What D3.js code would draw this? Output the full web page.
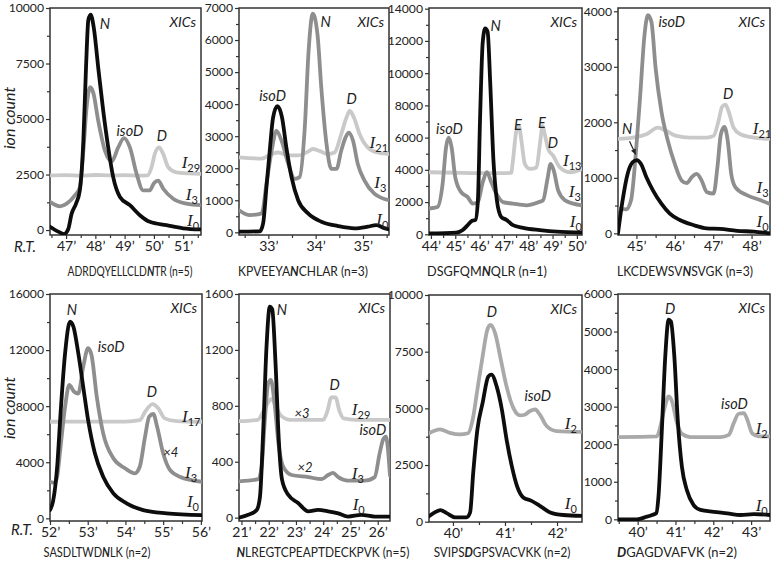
<!DOCTYPE html>
<html><head><meta charset="utf-8">
<script src="https://cdn.jsdelivr.net/npm/d3@7"></script>
<style>body{margin:0;background:#fff}svg{display:block}</style>
</head><body><svg id="c" width="775" height="563"></svg>
<script>
// ---------- DATA (retention time in minutes, ion count) ----------
const p1_I0  = [[46.45,150],[46.73,-70],[46.93,-180],[47.07,30],[47.19,740],[47.34,1190],[47.47,1790],[47.59,4020],[47.68,7290],[47.76,9460],[47.84,9700],[47.95,9080],[48.1,7290],[48.27,5360],[48.44,3720],[48.61,2380],[48.84,1490],[49.18,1120],[49.52,670],[49.86,370],[50.43,220],[51.0,80],[51.61,30]];
const p1_I3  = [[46.45,1265],[46.79,1070],[47.02,1190],[47.3,1560],[47.47,1930],[47.59,3570],[47.7,5500],[47.82,6430],[47.93,6180],[48.1,4910],[48.33,3570],[48.56,3100],[48.78,3720],[48.98,4140],[49.18,3720],[49.41,2530],[49.63,1790],[49.86,1790],[50.0,2110],[50.15,2230],[50.32,1860],[50.66,1410],[51.12,1190],[51.61,1120]];
const p1_I29 = [[46.45,2460],[47.0,2470],[47.5,2450],[48.0,2480],[48.5,2460],[49.0,2470],[49.5,2450],[49.78,2460],[49.92,2830],[50.03,3420],[50.18,3720],[50.32,3420],[50.49,2830],[50.77,2600],[51.2,2550],[51.61,2530]];

const p2_I0  = [[32.38,20],[32.82,30],[32.89,280],[32.96,1410],[33.03,2550],[33.1,3580],[33.19,3940],[33.29,3580],[33.38,2650],[33.49,1720],[33.63,1000],[33.84,590],[34.12,330],[34.47,195],[34.82,125],[35.1,175],[35.28,225],[35.45,130],[35.55,90]];
const p2_I3  = [[32.38,690],[32.61,535],[32.86,590],[32.96,1515],[33.07,2545],[33.17,3165],[33.28,2855],[33.42,2135],[33.56,1670],[33.66,1720],[33.77,3265],[33.85,5640],[33.94,6820],[34.04,6155],[34.12,4500],[34.23,2750],[34.33,1980],[34.44,1980],[34.54,2545],[34.63,2955],[34.7,3110],[34.79,2855],[34.89,2135],[35.03,1620],[35.24,1205],[35.55,1000]];
const p2_I21 = [[32.38,2340],[32.86,2300],[33.07,2440],[33.21,2490],[33.42,2400],[33.63,2400],[33.84,2520],[33.94,2600],[34.08,2540],[34.26,2440],[34.4,2490],[34.54,3060],[34.65,3575],[34.72,3785],[34.81,3575],[34.93,3060],[35.1,2650],[35.31,2490],[35.55,2440]];

const p3_I0  = [[43.92,50],[45.03,100],[45.31,265],[45.51,570],[45.69,840],[45.83,900],[45.93,2110],[46.02,7230],[46.13,11950],[46.23,12770],[46.33,12560],[46.44,9290],[46.57,4570],[46.71,2110],[46.89,1080],[47.1,900],[47.37,570],[47.79,405],[48.48,265],[49.17,160],[50.21,100]];
const p3_I3  = [[43.92,1600],[44.27,1700],[44.48,3140],[44.62,5390],[44.73,6000],[44.85,5390],[45.0,3540],[45.24,2620],[45.51,2310],[45.72,1905],[45.93,2000],[46.13,3235],[46.3,3850],[46.48,3235],[46.69,2520],[46.96,2000],[47.37,1905],[47.93,1800],[48.4,1980],[48.61,2110],[48.78,3340],[48.92,4365],[49.05,3955],[49.23,2725],[49.51,2110],[49.85,1905],[50.21,1800]];
const p3_I13 = [[43.92,3850],[45.0,3820],[46.0,3800],[47.0,3800],[47.3,3820],[47.37,4570],[47.51,6410],[47.62,6720],[47.72,5800],[47.86,4365],[48.06,4060],[48.34,4150],[48.48,5600],[48.59,6720],[48.68,6210],[48.82,5290],[49.02,4880],[49.3,4150],[49.71,3850],[50.21,4060]];

const p4_I0  = [[44.52,0],[44.64,595],[44.77,1070],[44.9,1280],[45.01,1320],[45.12,1250],[45.26,1010],[45.43,775],[45.65,535],[45.87,355],[46.13,240],[46.48,150],[46.83,90],[47.18,80],[47.62,45],[48.06,30],[48.48,0]];
const p4_I3  = [[44.52,445],[44.73,430],[44.86,595],[44.99,1490],[45.1,2500],[45.21,3570],[45.3,3930],[45.39,3810],[45.5,2975],[45.65,2200],[45.82,1665],[46.0,1250],[46.18,950],[46.31,905],[46.44,1010],[46.57,1070],[46.7,950],[46.83,745],[47.01,715],[47.11,1190],[47.2,1785],[47.29,1915],[47.38,1665],[47.47,1070],[47.58,830],[47.89,685],[48.24,595],[48.48,525]];
const p4_I21 = [[44.52,1700],[44.9,1725],[45.26,1785],[45.56,1905],[45.78,1845],[46.04,1755],[46.39,1725],[46.83,1725],[47.01,1755],[47.14,2025],[47.23,2275],[47.32,2320],[47.4,2200],[47.53,1905],[47.71,1785],[48.06,1725],[48.48,1700]];

const p5_I0  = [[52.0,600],[52.08,1200],[52.19,3680],[52.28,7490],[52.4,11770],[52.53,14020],[52.62,13670],[52.75,11770],[52.88,9390],[53.01,7010],[53.19,4640],[53.41,2970],[53.68,1780],[54.03,1070],[54.47,590],[55.09,360],[56.03,235]];
const p5_I3  = [[52.0,2610],[52.13,2540],[52.19,2970],[52.28,5110],[52.4,7960],[52.51,9510],[52.64,9030],[52.75,8900],[52.88,10810],[53.01,12130],[53.1,11650],[53.24,8670],[53.41,6060],[53.68,4280],[53.99,3570],[54.25,3210],[54.38,3680],[54.52,5820],[54.63,7250],[54.74,7440],[54.84,6530],[55.0,4640],[55.18,3450],[55.44,2970],[56.03,2610]];
const p5_I17 = [[52.0,6890],[53.0,6900],[54.0,6900],[54.38,7000],[54.52,7600],[54.72,8150],[54.87,7850],[55.04,7130],[55.36,6940],[56.03,6890]];

const p6_I0  = [[20.91,0],[21.25,20],[21.56,55],[21.68,150],[21.8,630],[21.92,1225],[22.04,1510],[22.13,1490],[22.25,1105],[22.37,555],[22.49,270],[22.71,165],[23.08,105],[23.45,45],[23.81,55],[24.18,45],[24.55,30],[24.91,8],[25.4,20],[25.89,8],[26.45,8]];
const p6_I3  = [[20.91,260],[21.62,275],[21.74,365],[21.86,700],[21.98,960],[22.08,985],[22.2,845],[22.37,510],[22.53,365],[22.84,305],[23.45,290],[23.94,275],[24.18,305],[24.36,320],[24.55,290],[24.91,265],[25.52,265],[25.89,290],[26.07,460],[26.2,560],[26.3,580],[26.38,480],[26.45,300]];
const p6_I29 = [[20.91,690],[21.6,700],[21.8,760],[22.0,830],[22.1,850],[22.25,800],[22.45,730],[22.8,700],[23.5,700],[24.0,700],[24.15,760],[24.3,860],[24.45,860],[24.6,760],[24.75,710],[25.2,700],[26.45,700]];

const p7_I0  = [[39.54,240],[39.65,410],[39.76,515],[39.88,380],[40.04,195],[40.26,190],[40.33,410],[40.39,2170],[40.47,4070],[40.57,5240],[40.68,6410],[40.74,6490],[40.84,5970],[40.94,4950],[41.03,3630],[41.13,2460],[41.23,1580],[41.35,1070],[41.51,920],[41.67,700],[41.87,410],[42.12,295],[42.48,260]];
const p7_I2  = [[39.54,3900],[39.75,4070],[39.94,3920],[40.13,3850],[40.29,3900],[40.38,4510],[40.47,5830],[40.57,7290],[40.66,8460],[40.72,8680],[40.81,8320],[40.92,7150],[41.03,5970],[41.16,5020],[41.29,4690],[41.38,4720],[41.48,4880],[41.58,4950],[41.67,4720],[41.8,4220],[41.99,4000],[42.48,3960]];

const p8_I0  = [[39.48,0],[39.98,0],[40.24,70],[40.38,115],[40.49,160],[40.55,600],[40.64,2380],[40.73,4340],[40.82,5320],[40.88,5270],[40.97,4340],[41.06,2650],[41.17,1400],[41.3,780],[41.48,380],[41.66,250],[42.01,200],[42.37,160],[42.72,115],[43.07,140],[43.5,115]];
const p8_I2  = [[39.48,2190],[40.51,2210],[40.6,2470],[40.7,2915],[40.82,3270],[40.91,3135],[41.04,2560],[41.17,2275],[41.39,2190],[42.19,2190],[42.41,2250],[42.54,2560],[42.67,2810],[42.81,2830],[42.9,2650],[43.03,2290],[43.2,2210],[43.5,2210]];

// axis domains and tick labels
const xDomains = [[46.45,51.61],[32.38,35.55],[43.92,50.21],[44.52,48.48],[52,56.03],[20.91,26.45],[39.54,42.48],[39.48,43.5]];
const yDomains = [[-223,10000],[-84,7000],[-43,14043],[-30,4059],[-190,16000],[-24,1600],[-13,10000],[-45,6000]];
const xTicks = [[47,48,49,50,51],[33,34,35],[44,45,46,47,48,49,50],[45,46,47,48],[52,53,54,55,56],[21,22,23,24,25,26],[40,41,42],[40,41,42,43]];
const yTicks = [[0,2500,5000,7500,10000],[0,1000,2000,3000,4000,5000,6000,7000],[0,2000,4000,6000,8000,10000,12000,14000],[0,1000,2000,3000,4000],[0,4000,8000,12000,16000],[0,400,800,1200,1600],[0,2500,5000,7500,10000],[0,1000,2000,3000,4000,5000,6000]];
const yStep = [2500,1000,2000,1000,4000,400,2500,1000];

// peptide labels: [before, modified residue, after]
const peptides = [["ADRDQYELLCLD","N","TR (n=5)"],["KPVEEYA","N","CHLAR (n=3)"],["DSGFQM","N","QLR (n=1)"],["LKCDEWSV","N","SVGK (n=3)"],["SASDLTWD","N","LK (n=2)"],["","N","LREGTCPEAPTDECKPVK (n=5)"],["SVIPS","D","GPSVACVKK (n=2)"],["","D","GAGDVAFVK (n=2)"]];

// series per panel: [name, subscript, data, tone]
const series = [
  [["I","29",p1_I29,"light"],["I","3",p1_I3,"mid"],["I","0",p1_I0,"dark"]],
  [["I","21",p2_I21,"light"],["I","3",p2_I3,"mid"],["I","0",p2_I0,"dark"]],
  [["I","13",p3_I13,"light"],["I","3",p3_I3,"mid"],["I","0",p3_I0,"dark"]],
  [["I","21",p4_I21,"light"],["I","3",p4_I3,"mid"],["I","0",p4_I0,"dark"]],
  [["I","17",p5_I17,"light"],["I","3",p5_I3,"mid"],["I","0",p5_I0,"dark"]],
  [["I","29",p6_I29,"light"],["I","3",p6_I3,"mid"],["I","0",p6_I0,"dark"]],
  [["I","2",p7_I2,"mid2"],["I","0",p7_I0,"dark"]],
  [["I","2",p8_I2,"mid2"],["I","0",p8_I0,"dark"]]
];
// curve-name labels placed at (t, value): [subscript, t, v]
const seriesLabels = [
  [["29",50.95,2810],["3",51.09,1340],["0",51.13,180]],
  [["21",35.14,2640],["3",35.24,1370],["0",35.28,225]],
  [["13",49.43,4260],["3",49.67,2290],["0",49.71,450]],
  [["21",48.03,1790],["3",48.13,720],["0",48.13,110]],
  [["17",55.5,6870],["3",55.58,2870],["0",55.63,800]],
  [["29",25.05,736],["3",25.05,277],["0",25.08,55]],
  [["2",42.15,4070],["0",42.15,560]],
  [["2",43.12,2270],["0",43.12,220]]
];
// peak annotations: [text, t, v]
const peakLabels = [
  [["N",48.33,9060],["isoD",49.18,4240],["D",50.27,4020]],
  [["isoD",33.09,4090],["N",34.21,6410],["D",34.76,4000]],
  [["isoD",44.76,6230],["N",46.66,12630],["E",47.57,6480],["E",48.56,6600],["D",49.01,5340]],
  [["isoD",45.92,3720],["D",47.39,2420],["N",44.76,1790]],
  [["N",52.58,14500],["isoD",53.62,11860],["D",54.7,8650],["×4",55.2,4370]],
  [["N",22.48,1450],["D",24.42,913],["×3",23.22,715],["isoD",25.82,592],["×2",23.33,327]],
  [["D",40.75,9030],["isoD",41.63,5340]],
  [["D",40.86,5475],["isoD",42.56,2940]]
];

// ---------- LAYOUT ----------
const boxes = [
  {l:50,r:201,t:8,b:235},{l:239,r:389,t:8,b:235},{l:429,r:582,t:8,b:235},{l:618,r:770,t:8,b:235},
  {l:50,r:202,t:294,b:521},{l:239,r:390,t:294,b:521},{l:429,r:582,t:295,b:522},{l:618,r:770,t:294,b:521}
];
const pepPos = [[130,276],[303,276],[487,276],[685,276],[97,557],[323,557],[502,557],[677,557]];
const pepWidth = [125,130,120,136,107,173,137,120];
const toneColor = {light:"#c9c9c9", mid:"#8e8e8e", mid2:"#a9a9a9", dark:"#0d0d0d"};
const SANS = "Lato, 'Open Sans', sans-serif";

const svg = d3.select("#c");
svg.append("rect").attr("width",775).attr("height",563).attr("fill","#fff");
const defs = svg.append("defs");

boxes.forEach((bx,i)=>{
  const x = d3.scaleLinear().domain(xDomains[i]).range([bx.l,bx.r]);
  const y = d3.scaleLinear().domain(yDomains[i]).range([bx.b,bx.t]);
  const g = svg.append("g");
  defs.append("clipPath").attr("id","clip"+i).append("rect")
    .attr("x",bx.l).attr("y",bx.t).attr("width",bx.r-bx.l).attr("height",bx.b-bx.t);

  // minor ticks
  const xMinor = xTicks[i].flatMap(v=>[v-0.5,v+0.5]).filter(v=>v>xDomains[i][0]&&v<xDomains[i][1]&&!xTicks[i].includes(v));
  const yMinor = yTicks[i].slice(0,-1).map(v=>v+yStep[i]/2).filter(v=>v<yDomains[i][1]);
  const gxm = g.append("g").attr("transform",`translate(0,${bx.b})`)
    .call(d3.axisBottom(x).tickValues([...new Set(xMinor)]).tickSize(3).tickFormat(""));
  const gym = g.append("g").attr("transform",`translate(${bx.l},0)`)
    .call(d3.axisLeft(y).tickValues(yMinor).tickSize(3).tickFormat(""));
  const gx = g.append("g").attr("transform",`translate(0,${bx.b})`)
    .call(d3.axisBottom(x).tickValues(xTicks[i]).tickSize(4).tickPadding(2).tickFormat(d=>d+"\u2019"));
  const gy = g.append("g").attr("transform",`translate(${bx.l},0)`)
    .call(d3.axisLeft(y).tickValues(yTicks[i]).tickSize(4).tickPadding(2).tickFormat(d3.format("d")));
  [gxm,gym,gx,gy].forEach(a=>{a.select(".domain").remove();a.selectAll("line").attr("stroke","#333").attr("stroke-width",1.2);});
  gx.selectAll("text").attr("font-family",SANS).attr("font-size",14).attr("fill","#222");
  gy.selectAll("text").attr("font-family",SANS).attr("font-size",12.2).attr("fill","#222");

  // frame
  g.append("rect").attr("x",bx.l).attr("y",bx.t).attr("width",bx.r-bx.l).attr("height",bx.b-bx.t)
    .attr("fill","none").attr("stroke","#333").attr("stroke-width",1.5);

  // curves
  const line = d3.line().x(d=>x(d[0])).y(d=>y(d[1])).curve(d3.curveMonotoneX);
  const cg = g.append("g").attr("clip-path",`url(#clip${i})`);
  series[i].forEach(s=>{
    cg.append("path").attr("d",line(s[2])).attr("fill","none")
      .attr("stroke",toneColor[s[3]]).attr("stroke-width",3.8)
      .attr("stroke-linejoin","round").attr("stroke-linecap","round");
  });

  // XICs
  g.append("text").attr("x",bx.r-5).attr("y",bx.t+19).attr("text-anchor","end")
    .attr("font-family",SANS).attr("font-style","italic").attr("font-size",14).attr("fill","#222").text("XICs");

  // peak labels
  peakLabels[i].forEach(p=>{
    g.append("text").attr("x",x(p[1])).attr("y",y(p[2])).attr("text-anchor","middle")
      .attr("font-family",SANS).attr("font-style","italic").attr("font-size",p[0].startsWith("×")?13:14.5)
      .attr("fill","#222").text(p[0]);
  });

  // series labels I_n
  seriesLabels[i].forEach(p=>{
    const t = g.append("text").attr("x",x(p[1])).attr("y",y(p[2])).attr("fill","#222");
    t.append("tspan").attr("font-family","'Liberation Serif', serif").attr("font-style","italic").attr("font-size",17).text("I");
    t.append("tspan").attr("font-family",SANS).attr("font-size",11).attr("dy",4).text(p[0]);
  });

  // peptide label (condensed horizontally to the reference width)
  const pp = peptides[i];
  const pg = g.append("g").attr("transform",`translate(${pepPos[i][0]},${pepPos[i][1]})`);
  const pt = pg.append("text").attr("x",0).attr("y",0).attr("text-anchor","middle")
    .attr("font-family",SANS).attr("font-size",14).attr("fill","#222");
  if(pp[0]) pt.append("tspan").text(pp[0]);
  pt.append("tspan").attr("font-weight","bold").attr("font-style","italic").text(pp[1]);
  pt.append("tspan").text(pp[2]);
  const nat = pt.node().getComputedTextLength();
  const sx = Math.min(1, pepWidth[i]/nat);
  pg.attr("transform",`translate(${pepPos[i][0]},${pepPos[i][1]}) scale(${sx},1)`);

  // arrow for N in panel 4
  if(i===3){
    const ax1=x(44.82), ay1=y(1660), ax2=x(44.98), ay2=y(1420);
    g.append("line").attr("x1",ax1).attr("y1",ay1).attr("x2",ax2).attr("y2",ay2).attr("stroke","#222").attr("stroke-width",1.2);
    const ang=Math.atan2(ay2-ay1,ax2-ax1);
    const hx=(a)=>ax2-6*Math.cos(ang+a), hy=(a)=>ay2-6*Math.sin(ang+a);
    g.append("path").attr("d",`M${ax2},${ay2}L${hx(0.45)},${hy(0.45)}L${hx(-0.45)},${hy(-0.45)}Z`).attr("fill","#222");
  }
});

// shared titles
[[15,118],[15,408]].forEach(p=>{
  svg.append("text").attr("transform",`translate(${p[0]},${p[1]}) rotate(-90)`).attr("text-anchor","middle")
    .attr("font-family",SANS).attr("font-style","italic").attr("font-size",16).attr("fill","#222").text("ion count");
});
[[25,252],[22,535]].forEach(p=>{
  svg.append("text").attr("x",p[0]).attr("y",p[1]).attr("text-anchor","middle")
    .attr("font-family",SANS).attr("font-style","italic").attr("font-size",15).attr("fill","#222").text("R.T.");
});
</script></body></html>
